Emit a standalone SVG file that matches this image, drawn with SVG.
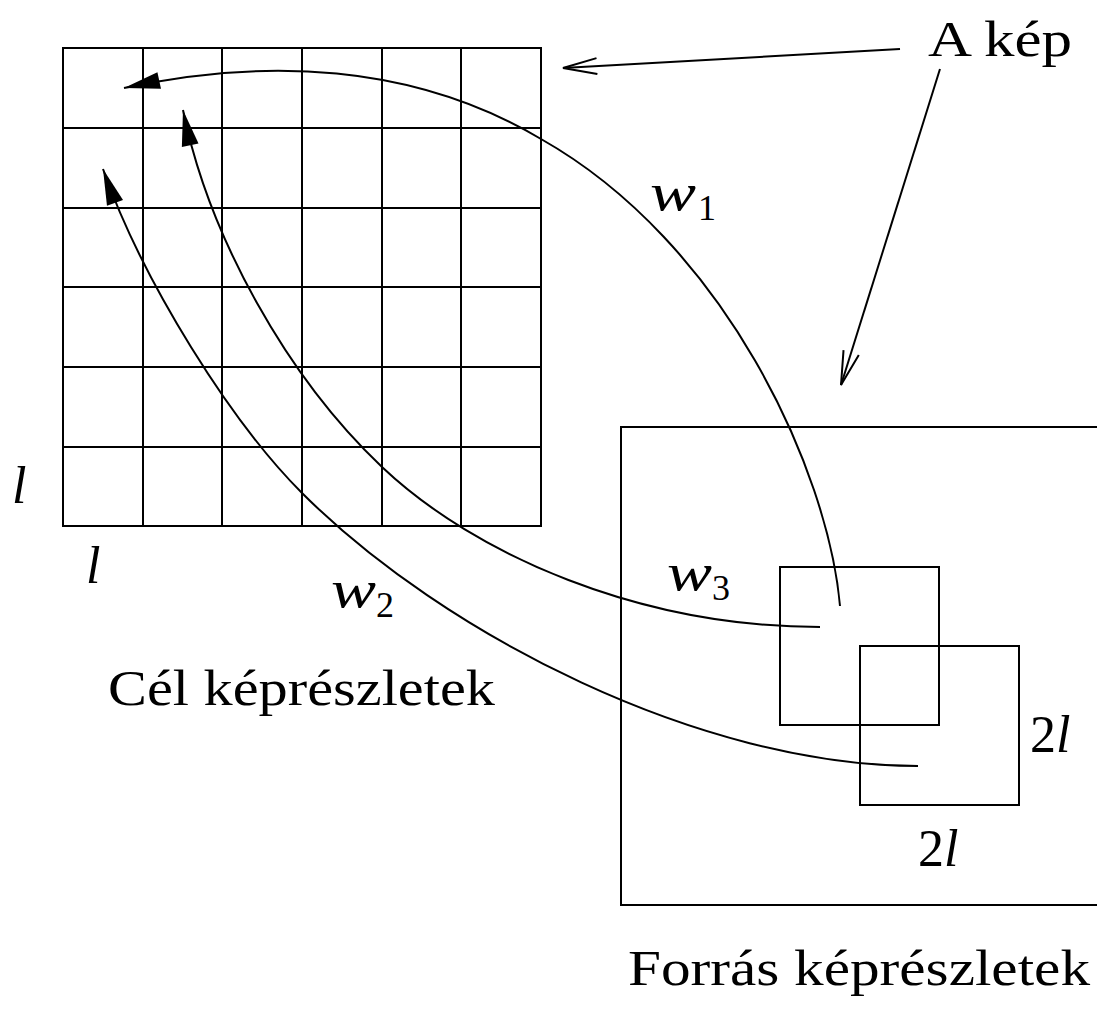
<svg xmlns="http://www.w3.org/2000/svg" width="1097" height="1016" viewBox="0 0 1097 1016">
<style>
.ln{fill:none;stroke:#000;stroke-width:2}
.t{font-family:"Liberation Serif","DejaVu Serif",serif;font-size:50px;fill:#000}
.m{font-family:"Liberation Serif","DejaVu Serif",serif;font-size:52px;font-style:italic;fill:#000}
.u{font-style:normal}
.s{font-family:"Liberation Serif","DejaVu Serif",serif;font-size:36px;fill:#000}
</style>
<defs>
<marker id="fill" markerUnits="userSpaceOnUse" markerWidth="40" markerHeight="24" viewBox="-38 -12 40 24" refX="0" refY="0" orient="auto">
<path d="M0,0 L-36,-8.5 L-36,8.5 Z" fill="#000"/>
</marker>
<marker id="open" markerUnits="userSpaceOnUse" markerWidth="40" markerHeight="24" viewBox="-38 -12 40 24" refX="0" refY="0" orient="auto">
<path d="M-34,-8 L0,0 L-34,8" fill="none" stroke="#000" stroke-width="2"/>
</marker>
</defs>
<g id="target-grid">
<rect class="ln" x="63" y="48" width="478" height="478"/>
<path class="ln" d="M143,48V526M222,48V526M302,48V526M382,48V526M461,48V526M63,128H541M63,208H541M63,287H541M63,367H541M63,447H541"/>
<text class="m" x="12" y="503">l</text>
<text class="m" x="86" y="583">l</text>
<text class="t" x="108" y="705" textLength="387" lengthAdjust="spacingAndGlyphs">Cél képrészletek</text>
</g>
<g id="source-image">
<rect class="ln" x="621" y="427" width="490" height="478"/>
<text class="t" x="628" y="985" textLength="462" lengthAdjust="spacingAndGlyphs">Forrás képrészletek</text>
</g>
<g id="source-block-1">
<rect class="ln" x="780" y="567" width="159" height="158"/>
</g>
<g id="source-block-2">
<rect class="ln" x="860" y="646" width="159" height="159"/>
<text class="m" x="1030" y="752"><tspan class="u">2</tspan>l</text>
<text class="m" x="918" y="866"><tspan class="u">2</tspan>l</text>
</g>
<g id="label-image">
<text class="t" x="928" y="56" textLength="144" lengthAdjust="spacingAndGlyphs">A kép</text>
</g>
<g id="connectors">
<path class="ln" d="M840,606 C828,470 725,243 541,139 C412,62.6 264,58 124,88" marker-end="url(#fill)"/>
<path class="ln" d="M820,627 C640,627 475,555 382,467 C287.6,377.7 209,237.4 183,110" marker-end="url(#fill)"/>
<path class="ln" d="M918,766 C700,766 443,634 302,493 C231.3,422.3 143,282.2 103,169" marker-end="url(#fill)"/>
<path class="ln" d="M900,49 L563,68" marker-end="url(#open)"/>
<path class="ln" d="M940,69 L841,385" marker-end="url(#open)"/>
<text class="m" x="650" y="210" textLength="46" lengthAdjust="spacingAndGlyphs">w</text><text class="s" x="698" y="220">1</text>
<text class="m" x="331" y="607" textLength="45" lengthAdjust="spacingAndGlyphs">w</text><text class="s" x="376" y="617">2</text>
<text class="m" x="667" y="590" textLength="45" lengthAdjust="spacingAndGlyphs">w</text><text class="s" x="712" y="600">3</text>
</g>
</svg>
